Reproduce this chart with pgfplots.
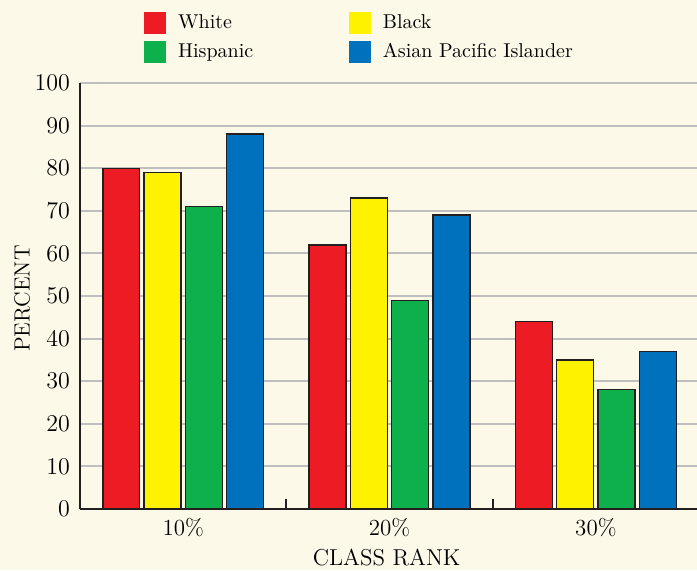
\documentclass[border=0pt]{standalone}
\usepackage{pgfplots}
\pgfplotsset{compat=1.18}
\usepackage{xcolor}
\definecolor{bg}{HTML}{FDF9E9}
\definecolor{cwhite}{HTML}{ED1C24}
\definecolor{cblack}{HTML}{FFF200}
\definecolor{chisp}{HTML}{0DB04B}
\definecolor{capi}{HTML}{0071BC}
\definecolor{axisdark}{HTML}{231F20}
\pagecolor{bg}
\begin{document}
\begin{tikzpicture}
\begin{axis}[
  scale only axis,
  width=308.5pt, height=213pt,
  anchor=south west, at={(0,0)},
  xmin=-0.5, xmax=2.49,
  ymin=0, ymax=100,
  ytick={0,10,...,100},
  xtick={0,1,2},
  xticklabels={10\%,20\%,30\%},
  major tick length=0pt,
  extra x ticks={0.5,1.5},
  extra x tick labels={},
  extra x tick style={major tick length=5pt, tick align=inside, tick style={line width=1pt, color=axisdark}},
  axis lines=left,
  axis line style={-, line width=1pt, color=axisdark},
  ymajorgrids,
  grid style={line width=1pt, color=black!25},
  tick label style={font=\fontsize{11.5}{13}\selectfont},
  yticklabel style={xshift=-1.5pt},
  xticklabel style={yshift=-1pt},
  every axis y label/.style={at={(axis description cs:-0.094,0.494)}, rotate=90, anchor=center, font=\fontsize{11}{13}\selectfont},
  every axis x label/.style={at={(axis description cs:0.497,-0.113)}, anchor=center, font=\fontsize{11.5}{13}\selectfont},
  ylabel={PERCENT},
  xlabel={CLASS RANK},
  ybar,
  bar width=0.179,
  every axis plot/.append style={draw=axisdark, line width=0.7pt},
  legend columns=2,
  legend style={draw=none, fill=none, at={(axis description cs:0,1)}, anchor=north west, xshift=29pt, yshift=38.5pt, font=\fontsize{10}{12}\selectfont, row sep=2pt, cells={anchor=west}, /tikz/every even column/.append style={column sep=46pt}},
  legend image code/.code={\fill[#1,draw=none] (0pt,-5.5pt) rectangle (11pt,5.5pt); \path (14.5pt,0pt);},
]
\addplot[fill=cwhite, bar shift=-0.30] coordinates {(0,80) (1,62) (2,44)};
\addplot[fill=cblack, bar shift=-0.10] coordinates {(0,79) (1,73) (2,35)};
\addplot[fill=chisp, bar shift=0.10] coordinates {(0,71) (1,49) (2,28)};
\addplot[fill=capi, bar shift=0.30] coordinates {(0,88) (1,69) (2,37)};
\legend{White, Black, Hispanic, Asian Pacific Islander}
\end{axis}
\pgfresetboundingbox
\useasboundingbox (-40pt,-30.5pt) rectangle (308.5pt,254.5pt);
\end{tikzpicture}
\end{document}
